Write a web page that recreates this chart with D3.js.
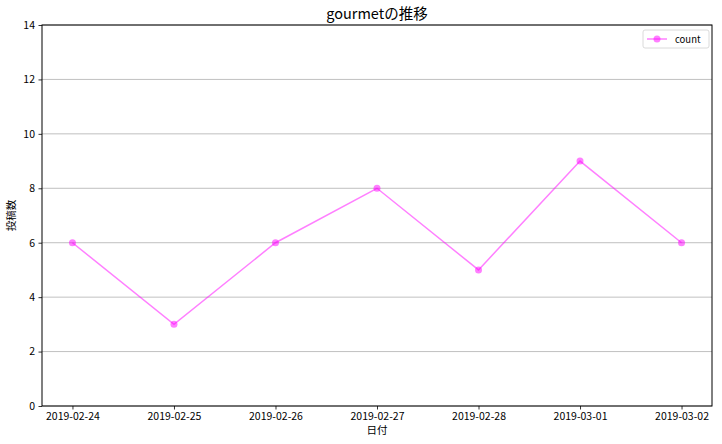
<!DOCTYPE html>
<html>
  <head>
    <meta charset="utf-8">
    <title>gourmetの推移</title>
    <style>
      body { margin: 0; background: #fff; }
      text { font-family: "Noto Sans CJK JP", "DejaVu Sans", sans-serif; }
    </style>
  </head>
  <body>
    <script src="https://d3js.org/d3.v7.min.js"></script>
    <svg id="chart" width="722" height="444"></svg>
    <script>
      // data
      const dates = ['2019-02-24', '2019-02-25', '2019-02-26', '2019-02-27', '2019-02-28', '2019-03-01', '2019-03-02']
      const counts = [6, 3, 6, 8, 5, 9, 6]
      const yTicks = [0, 2, 4, 6, 8, 10, 12, 14]

      const svg = d3.select('#chart')
      const margin = { top: 25, right: 10, bottom: 38, left: 42 }
      const width = 722 - margin.left - margin.right
      const height = 444 - margin.top - margin.bottom
      const color = '#ff00ff'

      const parse = d3.timeParse('%Y-%m-%d')
      const data = dates.map((d, i) => ({ date: parse(d), label: d, value: counts[i] }))

      const ext = d3.extent(data, d => d.date)
      const pad = (ext[1] - ext[0]) * 0.05
      const x = d3.scaleTime()
        .domain([new Date(+ext[0] - pad), new Date(+ext[1] + pad)])
        .range([0, width])
      const y = d3.scaleLinear().domain([0, 14]).range([height, 0])

      const g = svg.append('g').attr('transform', `translate(${margin.left},${margin.top})`)

      // horizontal grid
      g.append('g')
        .selectAll('line')
        .data(yTicks)
        .join('line')
          .attr('x1', 0)
          .attr('x2', width)
          .attr('y1', d => y(d))
          .attr('y2', d => y(d))
          .attr('stroke', '#b0b0b0')
          .attr('stroke-width', 0.8)

      // line + markers
      const line = d3.line().x(d => x(d.date)).y(d => y(d.value))
      g.append('path')
        .datum(data)
        .attr('d', line)
        .attr('fill', 'none')
        .attr('stroke', color)
        .attr('stroke-opacity', 0.5)
        .attr('stroke-width', 1.5)

      g.selectAll('circle.pt')
        .data(data)
        .join('circle')
          .attr('class', 'pt')
          .attr('cx', d => x(d.date))
          .attr('cy', d => y(d.value))
          .attr('r', 3.5)
          .attr('fill', color)
          .attr('fill-opacity', 0.5)

      // axes
      const xAxis = d3.axisBottom(x)
        .tickValues(data.map(d => d.date))
        .tickFormat(d3.timeFormat('%Y-%m-%d'))
        .tickSize(3.5)
        .tickPadding(3.5)
      const yAxis = d3.axisLeft(y)
        .tickValues(yTicks)
        .tickSize(3.5)
        .tickPadding(3.5)

      const gx = g.append('g').attr('transform', `translate(0,${height})`).call(xAxis)
      const gy = g.append('g').call(yAxis)
      ;[gx, gy].forEach(a => {
        a.select('.domain').remove()
        a.selectAll('.tick line').attr('stroke', '#000').attr('stroke-width', 0.8)
        a.selectAll('.tick text').attr('font-size', 10.5).attr('fill', '#000')
          .style('font-family', '"Noto Sans CJK JP", sans-serif')
      })

      // frame
      g.append('rect')
        .attr('width', width)
        .attr('height', height)
        .attr('fill', 'none')
        .attr('stroke', '#000')
        .attr('stroke-width', 1)

      // title and labels
      svg.append('text')
        .attr('x', margin.left + width / 2)
        .attr('y', 19)
        .attr('text-anchor', 'middle')
        .attr('font-size', 14.5)
        .text('gourmetの推移')

      svg.append('text')
        .attr('x', margin.left + width / 2)
        .attr('y', 434)
        .attr('text-anchor', 'middle')
        .attr('font-size', 10.5)
        .text('日付')

      svg.append('text')
        .attr('transform', `translate(15,${margin.top + height / 2}) rotate(-90)`)
        .attr('text-anchor', 'middle')
        .attr('font-size', 10.5)
        .text('投稿数')

      // legend
      const lg = svg.append('g').attr('transform', `translate(${margin.left + width - 69},30)`)
      lg.append('rect')
        .attr('width', 66)
        .attr('height', 18)
        .attr('rx', 2)
        .attr('fill', '#fff')
        .attr('stroke', '#d0d0d0')
        .attr('stroke-width', 0.8)
      lg.append('line')
        .attr('x1', 4).attr('x2', 24)
        .attr('y1', 9).attr('y2', 9)
        .attr('stroke', color)
        .attr('stroke-opacity', 0.5)
        .attr('stroke-width', 1.5)
      lg.append('circle')
        .attr('cx', 14).attr('cy', 9).attr('r', 3.5)
        .attr('fill', color).attr('fill-opacity', 0.5)
      lg.append('text')
        .attr('x', 32).attr('y', 12.5)
        .attr('font-size', 9.5)
        .text('count')
    </script>
  </body>
</html>
